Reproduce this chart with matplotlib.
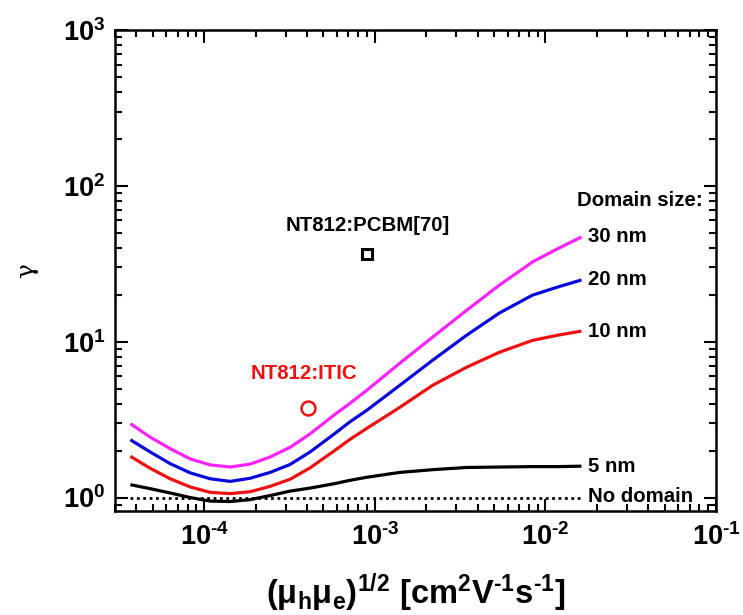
import numpy as np
import matplotlib
matplotlib.use('Agg')
import matplotlib.pyplot as plt
from matplotlib.ticker import LogLocator, FuncFormatter, NullFormatter

plt.rcParams['font.family'] = ['Liberation Sans', 'DejaVu Sans']
plt.rcParams['font.weight'] = 'bold'
plt.rcParams['mathtext.fontset'] = 'custom'
plt.rcParams['mathtext.rm'] = 'Liberation Sans:bold'
plt.rcParams['mathtext.it'] = 'Liberation Sans:bold'
plt.rcParams['mathtext.bf'] = 'Liberation Sans:bold'
plt.rcParams['mathtext.default'] = 'rm'
plt.rcParams['axes.unicode_minus'] = False

# mobility (mu_h*mu_e)^1/2 [cm2/Vs]
mobility = [3.69e-5, 4.83e-5, 6.32e-5, 8.28e-5, 1.084e-4, 1.419e-4, 1.858e-4, 2.432e-4,
            3.184e-4, 4.168e-4, 5.84e-4, 7.141e-4, 8.97e-4, 1.40e-3, 2.18e-3, 3.45e-3,
            5.38e-3, 8.40e-3, 1.175e-2, 1.626e-2]

gamma_30nm = [2.98, 2.44, 2.06, 1.77, 1.62, 1.57, 1.64, 1.82, 2.10, 2.56, 3.42, 4.02,
              4.88, 7.27, 10.7, 15.9, 23.1, 32.5, 39.4, 47.0]
gamma_20nm = [2.35, 1.96, 1.65, 1.44, 1.32, 1.27, 1.33, 1.45, 1.63, 1.96, 2.58, 3.06,
              3.63, 5.25, 7.60, 11.0, 15.3, 19.9, 22.4, 24.9]
gamma_10nm = [1.84, 1.54, 1.32, 1.17, 1.08, 1.06, 1.09, 1.18, 1.31, 1.55, 2.01, 2.36,
              2.78, 3.79, 5.25, 6.86, 8.56, 10.2, 11.0, 11.7]
gamma_5nm = [1.21, 1.14, 1.07, 1.00, 0.95, 0.943, 0.97, 1.03, 1.10, 1.15, 1.23, 1.29,
             1.35, 1.45, 1.51, 1.56, 1.57, 1.58, 1.58, 1.59]
gamma_nodomain = [1.0] * len(mobility)

curve_labels = ['30 nm', '20 nm', '10 nm', '5 nm']
curve_colors = ['#ff22ff', '#0a0ad8', '#ee1111', 'black']

# measured blends
pcbm_x, pcbm_y = 8.97e-4, 36.5
itic_x, itic_y = 4.06e-4, 3.73

fig = plt.figure(figsize=(7.43, 6.15), dpi=100)
ax = fig.add_axes([0.1548, 0.1691, 0.8089, 0.7821])

fs = 14.7
curves = [gamma_30nm, gamma_20nm, gamma_10nm, gamma_5nm]
for g, lab, col in zip(curves, curve_labels, curve_colors):
    ax.plot(mobility, g, color=col, lw=2.3, solid_capstyle='butt', solid_joinstyle='round')
    ax.text(1.78e-2, g[-1], lab, color='black', fontsize=fs, fontweight='bold',
            va='center', ha='left')

ax.plot(mobility, gamma_nodomain, color='black', lw=2.0, linestyle=(0, (1, 1.3)))
ax.text(1.78e-2, 1.01, 'No domain', color='black', fontsize=fs, fontweight='bold',
        va='center', ha='left')
ax.text(1.54e-2, 80, 'Domain size:', color='black', fontsize=fs, fontweight='bold',
        va='center', ha='left')

ax.plot(pcbm_x, pcbm_y, marker='s', ms=7, mfc='none', mec='black', mew=2.2, ls='none')
ax.text(9.1e-4, 56, 'NT812:PCBM[70]', color='black', fontsize=fs, fontweight='bold',
        va='center', ha='center')
ax.plot(itic_x, itic_y, marker='o', ms=10, mfc='none', mec='#ee1111', mew=1.8, ls='none')
ax.text(3.85e-4, 6.27, 'NT812:ITIC', color='#ee1111', fontsize=fs, fontweight='bold',
        va='center', ha='center')

ax.set_xscale('log')
ax.set_yscale('log')
ax.set_xlim(3.0e-5, 1e-1)
ax.set_ylim(0.82, 1e3)


def pow_label(v, p):
    e = int(round(np.log10(v)))
    if e < 0:
        return r'$10^{\text{-}%d}$' % (-e)
    return r'$10^{%d}$' % e


ax.xaxis.set_major_locator(LogLocator(base=10, numticks=10))
ax.yaxis.set_major_locator(LogLocator(base=10, numticks=10))
ax.xaxis.set_minor_locator(LogLocator(base=10, subs=np.arange(2, 10), numticks=20))
ax.yaxis.set_minor_locator(LogLocator(base=10, subs=np.arange(2, 10), numticks=20))
ax.xaxis.set_major_formatter(FuncFormatter(pow_label))
ax.yaxis.set_major_formatter(FuncFormatter(pow_label))
ax.xaxis.set_minor_formatter(NullFormatter())
ax.yaxis.set_minor_formatter(NullFormatter())

ax.tick_params(which='both', direction='in', top=True, right=True, width=1.5)
ax.tick_params(which='major', length=9, labelsize=19.5)
ax.tick_params(which='minor', length=5)
ax.tick_params(axis='x', which='major', pad=9)
ax.tick_params(axis='y', which='major', pad=7)
for s in ax.spines.values():
    s.set_linewidth(1.8)

ax.set_xlabel(r'$(μ_hμ_e)^{1/2}\ [cm^2V^{\text{-}1}s^{\text{-}1}]$', fontsize=23.5, labelpad=14)
ax.set_ylabel('γ', fontsize=18, fontweight='normal', family='DejaVu Serif', labelpad=18)

fig.savefig('out.png', dpi=100)
